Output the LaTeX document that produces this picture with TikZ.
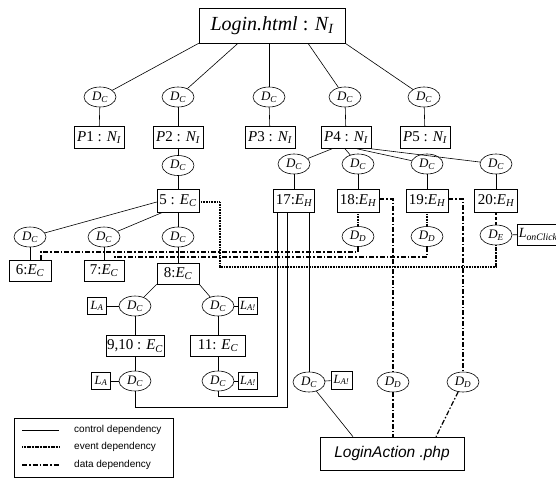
\documentclass[tikz,border=0pt]{standalone}
\usepackage{fontspec}
\setmainfont{Liberation Serif}
\setsansfont{Liberation Sans}
\usetikzlibrary{shapes.geometric}
% italic letter with italic subscript, e.g. E_C
\newcommand{\sbs}[2]{{\itshape #1}\textsubscript{\itshape #2}}

\begin{document}
\begin{tikzpicture}[x=1pt,y=-1pt,
  nbox/.style={draw, rectangle, line width=0.6pt, inner sep=1pt,
    minimum height=22pt, font=\fontsize{15}{15}\selectfont},
  dep/.style={draw, ellipse, line width=0.6pt, inner sep=0pt,
    minimum width=32pt, minimum height=20pt, font=\fontsize{13}{13}\selectfont},
  lab/.style={draw, rectangle, line width=0.6pt, inner sep=1pt,
    minimum width=19pt, minimum height=17pt, font=\fontsize{12.5}{12.5}\selectfont},
  ctrlline/.style={line width=0.6pt},
  eventline/.style={line width=1.7pt, dash pattern=on 1.1pt off 0.5pt},
  dataline/.style={line width=1.2pt, dash pattern=on 5pt off 2pt on 1.5pt off 2pt},
  evdash/.style={line width=1.4pt, dash pattern=on 3pt off 2pt},
  legtext/.style={anchor=west, inner sep=0pt, font=\sffamily\fontsize{10}{10}\selectfont}]
\useasboundingbox (0,0) rectangle (556,479);

% root page
\node[nbox, minimum width=146pt, minimum height=35pt, font=\fontsize{20}{20}\selectfont]
  (top) at (272,25.5) {\textit{Login.html} : \sbs{N}{I}};

% first level
\node[dep] (dcA) at (100,97) {\sbs{D}{C}};
\node[dep] (dcB) at (178,97) {\sbs{D}{C}};
\node[dep] (dcC) at (269,97) {\sbs{D}{C}};
\node[dep] (dcD) at (345,97) {\sbs{D}{C}};
\node[dep] (dcE) at (424,97) {\sbs{D}{C}};

\node[nbox, minimum width=50pt] (p1) at (99,137.5)  {\textit{P}1 : \sbs{N}{I}};
\node[nbox, minimum width=50pt] (p2) at (178,137.5) {\textit{P}2 : \sbs{N}{I}};
\node[nbox, minimum width=50pt] (p3) at (270,137.5) {\textit{P}3 : \sbs{N}{I}};
\node[nbox, minimum width=50pt] (p4) at (346,137.5) {\textit{P}4 : \sbs{N}{I}};
\node[nbox, minimum width=50pt] (p5) at (425,137.5) {\textit{P}5 : \sbs{N}{I}};

% elements of P2
\node[dep] (dc2) at (178,165.5) {\sbs{D}{C}};
\node[nbox, minimum width=42pt, minimum height=23pt] (e5) at (178,200.5) {5 : \sbs{E}{C}};

\node[dep] (dc6) at (30,237) {\sbs{D}{C}};
\node[dep] (dc7) at (104,237) {\sbs{D}{C}};
\node[dep] (dc8) at (178,237) {\sbs{D}{C}};

\node[nbox, minimum width=42pt, minimum height=21pt] (e6) at (30,270.5) {6:\sbs{E}{C}};
\node[nbox, minimum width=40pt, minimum height=21pt] (e7) at (104,270.5) {7:\sbs{E}{C}};
\node[nbox, minimum width=42pt, minimum height=21pt] (e8) at (178,273.5) {8:\sbs{E}{C}};

\node[dep] (dc9)  at (135,306) {\sbs{D}{C}};
\node[lab] (la1)  at (97,306)  {\sbs{L}{A}};
\node[dep] (dc11) at (218,306) {\sbs{D}{C}};
\node[lab] (la2)  at (248,306) {\sbs{L}{A!}};

\node[nbox, minimum width=58pt, minimum height=21pt] (e910) at (135,346) {9,10 : \sbs{E}{C}};
\node[nbox, minimum width=55pt, minimum height=21pt] (e11)  at (218,346) {11: \sbs{E}{C}};

\node[dep] (dc10) at (135,381) {\sbs{D}{C}};
\node[lab] (la3)  at (101,381) {\sbs{L}{A}};
\node[dep] (dc12) at (218,381) {\sbs{D}{C}};
\node[lab] (la4)  at (248,381) {\sbs{L}{A!}};

% elements of P4
\node[dep] (dc17) at (294,164) {\sbs{D}{C}};
\node[dep] (dc18) at (358,164) {\sbs{D}{C}};
\node[dep] (dc19) at (427,164) {\sbs{D}{C}};
\node[dep] (dc20) at (496,164) {\sbs{D}{C}};

\node[nbox, minimum width=41pt, minimum height=23pt] (e17) at (294,200.5) {17:\sbs{E}{H}};
\node[nbox, minimum width=42pt, minimum height=23pt] (e18) at (358,200.5) {18:\sbs{E}{H}};
\node[nbox, minimum width=42pt, minimum height=23pt] (e19) at (427,200.5) {19:\sbs{E}{H}};
\node[nbox, minimum width=43pt, minimum height=23pt] (e20) at (496,200.5) {20:\sbs{E}{H}};

\node[dep] (dd18) at (358,236.5) {\sbs{D}{D}};
\node[dep] (dd19) at (427,236.5) {\sbs{D}{D}};
\node[dep] (de20) at (496,235) {\sbs{D}{E}};
\node[nbox, anchor=west, minimum height=21pt, inner xsep=1.5pt, font=\fontsize{14}{14}\selectfont]
  (lclick) at (517,234.5) {\sbs{L}{onClick}};

% server side
\node[dep] (dcL) at (309,382) {\sbs{D}{C}};
\node[lab, minimum width=21pt, minimum height=18pt] (la5) at (341.5,380) {\sbs{L}{A!}};
\node[dep] (ddA) at (393,382) {\sbs{D}{D}};
\node[dep] (ddB) at (463,382) {\sbs{D}{D}};
\node[nbox, minimum width=144pt, minimum height=33pt, font=\sffamily\itshape\fontsize{15.5}{15.5}\selectfont]
  (login) at (392,453.5) {LoginAction .php};

% control dependencies
\draw[ctrlline] (top.south west) -- (dcA);
\draw[ctrlline] ([xshift=-34pt]top.south) -- (dcB);
\draw[ctrlline] ([xshift=-3pt]top.south) -- (dcC);
\draw[ctrlline] ([xshift=36pt]top.south) -- (dcD);
\draw[ctrlline] (top.south east) -- (dcE);
\draw[ctrlline] (dcA) -- (p1);
\draw[ctrlline] (dcB) -- (p2);
\draw[ctrlline] (dcC) -- (p3);
\draw[ctrlline] (dcD) -- (p4);
\draw[ctrlline] (dcE) -- (p5);

\draw[ctrlline] (p2) -- (dc2) -- (e5);
\draw[ctrlline] ([yshift=-1.5pt]e5.west) -- (dc6);
\draw[ctrlline] ([xshift=6pt]e5.south west) -- (dc7);
\draw[ctrlline] (e5) -- (dc8);
\draw[ctrlline] (dc6) -- (e6);
\draw[ctrlline] (dc7) -- (e7);
\draw[ctrlline] (dc8) -- (e8);
\draw[ctrlline] (e8.south west) -- (dc9);
\draw[ctrlline] (e8.south east) -- (dc11);
\draw[ctrlline] (la1) -- (dc9);
\draw[ctrlline] (dc11) -- (la2);
\draw[ctrlline] (dc9) -- (e910) -- (dc10);
\draw[ctrlline] (dc11) -- (e11) -- (dc12);
\draw[ctrlline] (la3) -- (dc10);
\draw[ctrlline] (dc12) -- (la4);

\draw[ctrlline] ([xshift=-14pt]p4.south) -- (dc17);
\draw[ctrlline] ([xshift=-1pt]p4.south) -- (dc18);
\draw[ctrlline] ([xshift=11pt]p4.south) -- (dc19);
\draw[ctrlline] (p4.south east) -- (dc20);
\draw[ctrlline] (dc17) -- (e17);
\draw[ctrlline] (dc18) -- (e18);
\draw[ctrlline] (dc19) -- (e19);
\draw[ctrlline] (dc20) -- (e20);
\draw[ctrlline] (de20) -- (lclick);

% links from the handler 17 to the button elements and the request
\coordinate (b1) at (277,396);
\coordinate (b2) at (287,407);
\draw[ctrlline] (b1 |- e17.south) -- (b1) -| (dc12.south);
\draw[ctrlline] (b2 |- e17.south) -- (b2) -| (dc10.south);
\draw[ctrlline] (dcL.north |- e17.south) -- (dcL.north);
\draw[ctrlline] (dcL) -- (la5);
\draw[ctrlline] (dcL) -- ([xshift=-39pt]login.north);

% event dependencies
\coordinate (v1) at (220,267);
\draw[eventline] ([yshift=-1.5pt]e5.east) -| (v1) -| (de20.south);
\draw[eventline] (e18) -- (dd18);
\draw[eventline] (e19) -- (dd19);
\draw[evdash] (e20) -- (de20);

% data dependencies
\coordinate (h1) at (41,252);
\coordinate (h2) at (115,257);
\draw[dataline] (dd18.south) |- (h1) -- (h1 |- e6.north);
\draw[dataline] (dd19.south) |- (h2) -- (h2 |- e7.north);
\draw[dataline] ([yshift=1.5pt]e18.east) -| (ddA.north);
\draw[dataline] ([yshift=1.5pt]e19.east) -| (ddB.north);
\draw[dataline] (ddA) -- (ddA |- login.north);
\draw[dataline] (ddB) -- ([xshift=44pt]login.north);

% legend
\node[draw, line width=0.6pt, minimum width=159pt, minimum height=59pt, inner sep=0pt] (legend) at (93.5,447.5) {};
\coordinate (l1a) at (22,430); \coordinate (l1b) at (59,430);
\coordinate (l2a) at (22,447); \coordinate (l2b) at (59,447);
\coordinate (l3a) at (22,465); \coordinate (l3b) at (59,465);
\draw[ctrlline] (l1a) -- (l1b);
\draw[eventline] (l2a) -- (l2b);
\draw[dataline] (l3a) -- (l3b);
\node[legtext] (t1) at (74,430) {control dependency};
\node[legtext] (t2) at (74,447) {event dependency};
\node[legtext] (t3) at (74,465) {data dependency};
\end{tikzpicture}
\end{document}
